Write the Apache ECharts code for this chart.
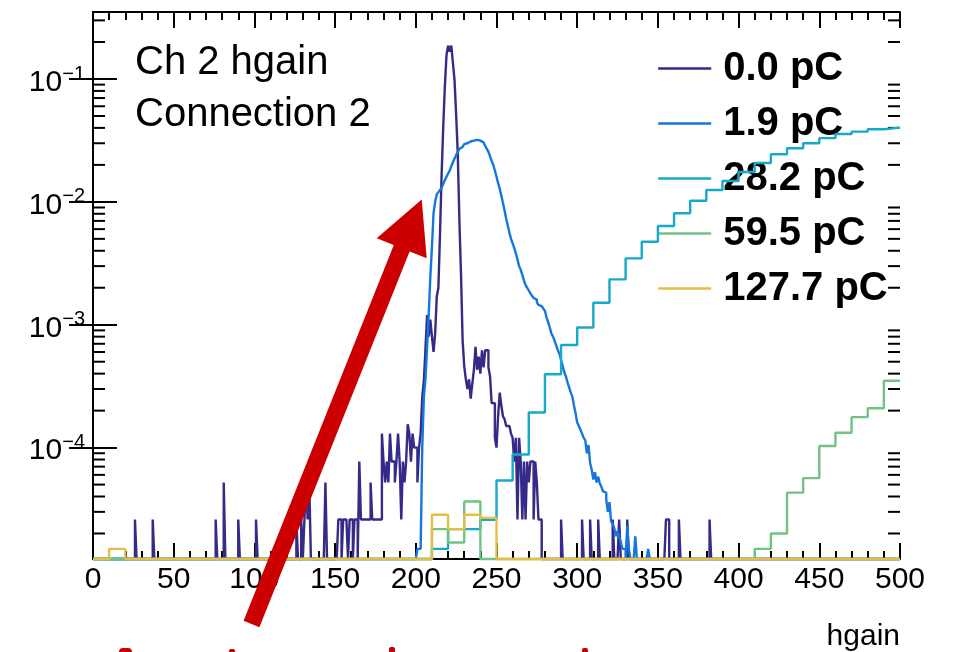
<!DOCTYPE html>
<html><head><meta charset="utf-8">
<script src="https://cdn.jsdelivr.net/npm/echarts@6/dist/echarts.min.js"></script>
<style>html,body{margin:0;padding:0;background:#fff}#c{width:960px;height:652px}</style>
</head><body><div id="c"></div>
<script>
// ---------- axis ranges ----------
const xMin = 0, xMax = 500;
const yMin = 1.24e-5, yMax = 0.351;
const xTickStep = 50;
const yMajorTicks = [1e-4, 1e-3, 1e-2, 1e-1];
const yMinorTicks = [2e-5,3e-5,4e-5,5e-5,6e-5,7e-5,8e-5,9e-5,
  2e-4,3e-4,4e-4,5e-4,6e-4,7e-4,8e-4,9e-4,
  2e-3,3e-3,4e-3,5e-3,6e-3,7e-3,8e-3,9e-3,
  2e-2,3e-2,4e-2,5e-2,6e-2,7e-2,8e-2,9e-2,
  2e-1,3e-1];

// ---------- series ----------
const seriesNames = ['0.0 pC','1.9 pC','28.2 pC','59.5 pC','127.7 pC'];
const seriesColors = ['#352A87','#1576DE','#17A9C9','#72C283','#E3BF47'];
const fineBinWidth = 1, coarseBinWidth = 10;

// 0.0 pC : 1-unit bins, non-empty bins only
const pc00_bin = [26,37,76,81,90,101,126,129,131,132,133,134,144,
  152,153,155,156,157,159,160,162,163,165,166,167,168,169,170,171,172,173,174,175,176,177,178,
  179,180,181,182,183,184,185,186,187,188,189,190,191,192,193,194,195,196,197,198,199,200,201,202,203,
  204,205,206,207,208,209,210,211,212,213,214,215,216,217,218,219,220,221,222,223,224,225,226,227,228,229,
  230,231,232,233,234,235,236,237,238,239,240,241,242,243,244,245,246,247,248,249,250,251,252,253,254,
  255,256,257,258,259,260,261,262,263,264,265,266,267,268,269,270,271,272,273,274,275,276,277,
  290,303,308,313,322,326,331,355,356,363,382];
const pc00_val = [2.6e-5,2.6e-5,2.6e-5,5.2e-5,2.6e-5,2.6e-5,2.6e-5,2.6e-5,2.6e-5,5.2e-5,2.6e-5,5.2e-5,5.2e-5,
  2.6e-5,2.6e-5,2.6e-5,2.6e-5,2.6e-5,2.6e-5,2.6e-5,2.6e-5,2.6e-5,7.7e-5,2.6e-5,2.6e-5,2.6e-5,2.6e-5,2.6e-5,2.6e-5,5.2e-5,2.6e-5,2.6e-5,2.6e-5,2.6e-5,2.6e-5,2.6e-5,
  1.3e-4,7.7e-5,5.2e-5,7.7e-5,5.2e-5,1.3e-4,7.7e-5,7.7e-5,5.2e-5,7.7e-5,1.3e-4,7.7e-5,2.6e-5,7.7e-5,5.2e-5,7.7e-5,1.55e-4,1.3e-4,7.7e-5,1.3e-4,1.0e-4,1.0e-4,5.2e-5,1.0e-4,1.3e-4,
  2.6e-4,3.5e-4,6.4e-4,1.2e-3,8.0e-4,1.1e-3,8.0e-4,6.0e-4,8.5e-4,1.7e-3,2.0e-3,5.5e-3,1.66e-2,4.1e-2,8.7e-2,0.155,0.187,0.167,0.187,0.135,0.098,0.051,2.5e-2,7.1e-3,2.6e-3,7.5e-4,
  4.6e-4,3.6e-4,3.0e-4,3.6e-4,2.5e-4,3.3e-4,4.3e-4,6.6e-4,4.3e-4,5.5e-4,4.0e-4,6.2e-4,4.5e-4,6.2e-4,6.2e-4,4.5e-4,3.8e-4,2.3e-4,2.3e-4,1.2e-4,1.0e-4,1.8e-4,2.8e-4,2.2e-4,1.8e-4,
  1.7e-4,1.5e-4,1.5e-4,1.5e-4,1.3e-4,1.2e-4,7.7e-5,1.2e-4,2.6e-5,1.2e-4,7.7e-5,2.6e-5,7.7e-5,2.6e-5,7.7e-5,5.2e-5,7.7e-5,7.7e-5,2.6e-5,7.7e-5,5.2e-5,2.6e-5,2.6e-5,
  2.6e-5,2.6e-5,2.6e-5,2.6e-5,2.6e-5,2.6e-5,2.6e-5,2.6e-5,2.6e-5,2.6e-5,2.6e-5];

// 1.9 pC : 1-unit bins starting at pc19_first
const pc19_first = 201;
const pc19_val = [1.5e-5,1.5e-5,1.5e-5,1.0e-4,2.6e-4,3.6e-4,6.6e-4,1.2e-3,2.45e-3,4.3e-3,
  8.1e-3,1.0e-2,1.15e-2,1.2e-2,1.25e-2,1.3e-2,1.4e-2,1.5e-2,1.6e-2,1.7e-2,
  1.8e-2,1.95e-2,2.1e-2,2.25e-2,2.4e-2,2.55e-2,2.7e-2,2.8e-2,2.9e-2,2.95e-2,
  3.0e-2,3.05e-2,3.1e-2,3.1e-2,3.15e-2,3.2e-2,3.2e-2,3.2e-2,3.15e-2,3.1e-2,
  3.05e-2,2.95e-2,2.85e-2,2.7e-2,2.55e-2,2.35e-2,2.15e-2,2.0e-2,1.8e-2,1.6e-2,
  1.42e-2,1.28e-2,1.12e-2,9.8e-3,8.5e-3,7.3e-3,6.4e-3,5.6e-3,5.0e-3,4.6e-3,
  4.2e-3,3.8e-3,3.4e-3,3.0e-3,2.8e-3,2.55e-3,2.3e-3,2.1e-3,2.0e-3,1.9e-3,
  1.8e-3,1.72e-3,1.65e-3,1.6e-3,1.52e-3,1.45e-3,1.42e-3,1.38e-3,1.35e-3,1.3e-3,
  1.15e-3,1.05e-3,9.5e-4,8.5e-4,8.0e-4,7.4e-4,6.8e-4,6.2e-4,5.8e-4,5.2e-4,
  4.6e-4,4.1e-4,3.8e-4,3.4e-4,3.1e-4,2.8e-4,2.6e-4,2.2e-4,1.9e-4,1.6e-4,
  1.5e-4,1.4e-4,1.3e-4,1.2e-4,1.15e-4,9.0e-5,1.05e-4,7.5e-5,6.6e-5,5.5e-5,
  6.3e-5,5.2e-5,5.8e-5,5.1e-5,4.8e-5,4.4e-5,4.3e-5,3.8e-5,3.0e-5,3.6e-5,
  2.5e-5,2.4e-5,2.2e-5,1.9e-5,2.1e-5,1.9e-5,1.7e-5,1.5e-5,1.5e-5,0,
  2.3e-5,1.5e-5,0,0,0,1.9e-5,0,0,0,0,0,0,0,1.5e-5];

// 28.2 / 59.5 / 127.7 pC : 10-unit bins from 0 to 500
const pc282_val = [0,0,0,0,0,0,0,0,0,0, 0,0,0,0,0,0,0,0,0,0,
  0,1.5e-5,2.17e-5,2.17e-5,2.58e-5,5.4e-5,8.8e-5,1.93e-4,3.95e-4,6.85e-4,
  9.5e-4,1.51e-3,2.34e-3,3.47e-3,4.74e-3,6.37e-3,8.07e-3,1.02e-2,1.25e-2,1.48e-2,
  1.75e-2,2.07e-2,2.44e-2,2.73e-2,3.0e-2,3.3e-2,3.57e-2,3.73e-2,3.9e-2,4.02e-2];
const pc595_val = [0,0,0,0,0,0,0,0,0,0, 0,0,0,0,0,0,0,0,0,0,
  0,2.17e-5,1.69e-5,3.64e-5,0,0,0,0,0,0,
  0,0,0,0,0,0,0,0,0,0,
  0,1.5e-5,2.0e-5,4.3e-5,5.64e-5,1.03e-4,1.32e-4,1.77e-4,2.09e-4,3.5e-4];
const pc1277_val = [0,1.5e-5,0,0,0,0,0,0,0,0, 0,0,0,0,0,0,0,0,0,0,
  0,2.84e-5,2.17e-5,2.84e-5,2.68e-5,0,0,0,0,0,
  0,0,0,0,0,0,0,0,0,0,
  0,0,0,0,0,0,0,0,0,0];

// ---------- helpers ----------
const nFine = (xMax - xMin) / fineBinWidth;
function fromSparse(bins, vals) {
  const a = new Array(nFine).fill(0);
  bins.forEach((b, i) => { a[b] = vals[i]; });
  return a;
}
function fromRange(first, vals) {
  const a = new Array(nFine).fill(0);
  vals.forEach((v, i) => { a[first + i] = v; });
  return a;
}
// histogram outline; empty bins are drawn on the axis floor, as ROOT does on log scale
function histSteps(contents, width) {
  const pts = [];
  for (let i = 0; i < contents.length; i++) {
    const v = contents[i] > 0 ? contents[i] : yMin;
    pts.push([xMin + i * width, v], [xMin + (i + 1) * width, v]);
  }
  return pts;
}
const histData = [
  histSteps(fromSparse(pc00_bin, pc00_val), fineBinWidth),
  histSteps(fromRange(pc19_first, pc19_val), fineBinWidth),
  histSteps(pc282_val, coarseBinWidth),
  histSteps(pc595_val, coarseBinWidth),
  histSteps(pc1277_val, coarseBinWidth)
];

const FONT = 'Liberation Sans';
const chart = echarts.init(document.getElementById('c'), null, {renderer: 'canvas'});

const lineSeries = seriesNames.map((name, i) => ({
  name, type: 'line', data: histData[i], symbol: 'none', showSymbol: false,
  clip: false, animation: false, z: 2 + i,
  color: seriesColors[i],
  lineStyle: {color: seriesColors[i], width: 2.4}
}));

const tickSeries = {
  type: 'custom', name: 'minor', silent: true, clip: false, animation: false, z: 1,
  data: yMinorTicks.map(v => [xMin, v]),
  renderItem: (params, api) => {
    const v = api.value(1);
    const pL = api.coord([xMin, v]);
    const pR = api.coord([xMax, v]);
    return {type: 'group', children: [
      {type: 'line', shape: {x1: pL[0], y1: pL[1], x2: pL[0] + 12, y2: pL[1]}, style: {stroke: '#000', lineWidth: 2}},
      {type: 'line', shape: {x1: pR[0] - 12, y1: pR[1], x2: pR[0], y2: pR[1]}, style: {stroke: '#000', lineWidth: 2}}
    ]};
  }
};

function powLabel(v) {
  const e = Math.log10(v), r = Math.round(e);
  if (Math.abs(e - r) > 1e-6) return '';
  return '{b|10}{s|\u2212' + (-r) + '}';
}

const axisLineStyle = {lineStyle: {color: '#000', width: 2}};
const option = {
  animation: false,
  backgroundColor: '#fff',
  grid: {left: 93, top: 12, width: 807, height: 547, containLabel: false},
  title: {
    text: 'Ch 2 hgain\nConnection 2', left: 135, top: 37, padding: 0,
    textStyle: {fontSize: 40, fontWeight: 'normal', fontFamily: FONT, color: '#000', lineHeight: 52}
  },
  legend: {
    data: seriesNames, orient: 'vertical', left: 657, top: 41, padding: 0, itemGap: 0,
    itemWidth: 53, itemHeight: 14, selectedMode: false,
    itemStyle: {opacity: 0, borderWidth: 0},
    lineStyle: {width: 2.4},
    textStyle: {fontSize: 40, fontWeight: 'bold', fontFamily: FONT, color: '#000', lineHeight: 43, padding: [0, 0, 12, 7]}
  },
  xAxis: [{
    type: 'value', min: xMin, max: xMax, interval: xTickStep, position: 'bottom',
    name: 'hgain', nameLocation: 'end', nameGap: 0,
    nameTextStyle: {fontSize: 30, fontFamily: FONT, color: '#000', align: 'right', verticalAlign: 'top', padding: [63, 0, 0, 0]},
    axisLine: axisLineStyle,
    axisTick: {show: true, inside: true, length: 16, lineStyle: {color: '#000', width: 2}},
    minorTick: {show: true, splitNumber: 5, length: 8, lineStyle: {color: '#000', width: 2}},
    splitLine: {show: false}, minorSplitLine: {show: false},
    axisLabel: {fontSize: 30, fontFamily: FONT, color: '#000', margin: 6}
  }, {
    type: 'value', min: xMin, max: xMax, interval: xTickStep, position: 'top',
    axisLine: axisLineStyle,
    axisTick: {show: true, inside: true, length: 16, lineStyle: {color: '#000', width: 2}},
    minorTick: {show: true, splitNumber: 5, length: 8, lineStyle: {color: '#000', width: 2}},
    splitLine: {show: false}, axisLabel: {show: false}
  }],
  yAxis: [{
    type: 'log', logBase: 10, min: yMin, max: yMax, position: 'left',
    axisLine: axisLineStyle,
    axisTick: {show: true, inside: true, length: 24, customValues: yMajorTicks, lineStyle: {color: '#000', width: 2}},
    splitLine: {show: false},
    axisLabel: {
      margin: 8, formatter: powLabel, color: '#000', customValues: yMajorTicks,
      fontSize: 30, fontFamily: FONT,
      rich: {
        b: {fontSize: 30, fontFamily: FONT, color: '#000', lineHeight: 30, padding: [7, 0, 0, 0]},
        s: {fontSize: 20, fontFamily: FONT, color: '#000', lineHeight: 18, verticalAlign: 'top'}
      }
    }
  }, {
    type: 'log', logBase: 10, min: yMin, max: yMax, position: 'right',
    axisLine: axisLineStyle,
    axisTick: {show: true, inside: true, length: 24, customValues: yMajorTicks, lineStyle: {color: '#000', width: 2}},
    splitLine: {show: false}, axisLabel: {show: false}
  }],
  series: [tickSeries].concat(lineSeries),
  graphic: [
    {type: 'polygon', z: 100, shape: {points: [[243.6, 620.8], [259.4, 627.2], [413.3, 242.2], [397.5, 235.8]]}, style: {fill: '#CC0000'}},
    {type: 'polygon', z: 100, shape: {points: [[421.7, 199.5], [376.7, 238.3], [426.7, 258.3]]}, style: {fill: '#CC0000'}},
    {type: 'rect', z: 100, shape: {x: 119, y: 648, width: 13, height: 8, r: 4}, style: {fill: '#CC0000'}},
    {type: 'rect', z: 100, shape: {x: 229, y: 649, width: 6, height: 6, r: 2}, style: {fill: '#CC0000'}},
    {type: 'rect', z: 100, shape: {x: 389, y: 647, width: 6, height: 8, r: 2}, style: {fill: '#CC0000'}},
    {type: 'rect', z: 100, shape: {x: 582, y: 648, width: 6, height: 8, r: 2}, style: {fill: '#CC0000'}}
  ]
};
chart.setOption(option);
</script></body></html>
